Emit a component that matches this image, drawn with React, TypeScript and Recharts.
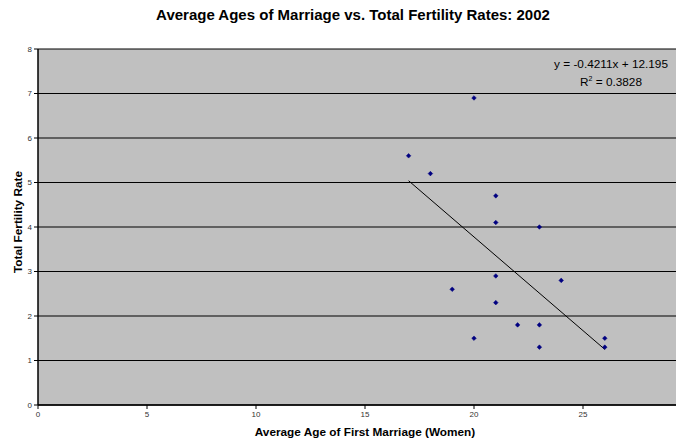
import {
  ScatterChart,
  Scatter,
  XAxis,
  YAxis,
  CartesianGrid,
} from "recharts";

// ages of first marriage (women) vs total fertility rate, 2002
const ages = [17, 18, 20, 21, 21, 23, 21, 19, 24, 21, 22, 23, 20, 23, 26, 26];
const fertility = [5.6, 5.2, 6.9, 4.7, 4.1, 4.0, 2.9, 2.6, 2.8, 2.3, 1.8, 1.8, 1.5, 1.3, 1.5, 1.3];

// linear trendline ends, as drawn
const trendX = [17, 26];
const trendY = [5.04, 1.25];

// axis runs to 30 but the picture is cropped before that tick
const xTicks = [0, 5, 10, 15, 20, 25];
const yTicks = [0, 1, 2, 3, 4, 5, 6, 7, 8];

const points = ages.map((a, i) => ({ age: a, tfr: fertility[i] }));
const trend = trendX.map((x, i) => ({ age: x, tfr: trendY[i] }));

const font = "'Liberation Sans', Arial, sans-serif";

const Diamond = (props: any) => {
  const { cx, cy } = props;
  if (cx == null || cy == null) return null;
  const r = 2.3;
  return (
    <path
      d={`M${cx},${cy - r}L${cx + r},${cy}L${cx},${cy + r}L${cx - r},${cy}Z`}
      fill="#000080"
      stroke="#000080"
      strokeWidth={0.5}
    />
  );
};

export default function App() {
  return (
    <div
      style={{
        position: "fixed",
        left: 0,
        top: 0,
        width: 676,
        height: 442,
        overflow: "hidden",
        background: "#fff",
        fontFamily: font,
      }}
    >
      <div
        style={{
          position: "absolute",
          left: 0,
          width: 706,
          top: 6,
          textAlign: "center",
          fontSize: 15,
          lineHeight: "18px",
          fontWeight: "bold",
          color: "#000",
        }}
      >
        Average Ages of Marriage vs. Total Fertility Rates: 2002
      </div>

      <div style={{ position: "absolute", left: 0, top: 0 }}>
        <ScatterChart
          width={720}
          height={442}
          margin={{ top: 49, right: 28, bottom: 7, left: 0 }}
        >
          <CartesianGrid
            horizontal
            vertical={false}
            stroke="#000"
            fill="#c0c0c0"
            fillOpacity={1}
          />
          <XAxis
            type="number"
            dataKey="age"
            domain={[0, 30]}
            ticks={xTicks}
            interval={0}
            tickSize={4}
            tickLine={{ stroke: "#000" }}
            axisLine={{ stroke: "#000", strokeWidth: 1.5 }}
            tick={{ fill: "#333", fontSize: 8, fontFamily: font }}
            height={30}
          />
          <YAxis
            type="number"
            dataKey="tfr"
            domain={[0, 8]}
            ticks={yTicks}
            interval={0}
            tickSize={4}
            tickLine={{ stroke: "#000" }}
            axisLine={{ stroke: "#000", strokeWidth: 1.5 }}
            tick={{ fill: "#333", fontSize: 8, fontFamily: font }}
            width={38}
          />
          <Scatter
            data={trend}
            line={{ stroke: "#000", strokeWidth: 1 }}
            shape={() => null}
            isAnimationActive={false}
          />
          <Scatter data={points} shape={Diamond} isAnimationActive={false} />
        </ScatterChart>
      </div>

      <div
        style={{
          position: "absolute",
          left: 38,
          width: 654,
          top: 425,
          textAlign: "center",
          fontSize: 11.8,
          lineHeight: "15px",
          fontWeight: "bold",
        }}
      >
        Average Age of First Marriage (Women)
      </div>
      <div
        style={{
          position: "absolute",
          left: 18,
          top: 222,
          transform: "translate(-50%, -50%) rotate(-90deg)",
          whiteSpace: "nowrap",
          fontSize: 11.8,
          lineHeight: "15px",
          fontWeight: "bold",
        }}
      >
        Total Fertility Rate
      </div>

      <div
        style={{
          position: "absolute",
          right: 8,
          top: 57,
          fontSize: 11.8,
          textAlign: "right",
          lineHeight: "14px",
        }}
      >
        y = -0.4211x + 12.195
      </div>
      <div
        style={{
          position: "absolute",
          right: 34,
          top: 75,
          fontSize: 11.8,
          lineHeight: "14px",
        }}
      >
        R<sup style={{ fontSize: 7, verticalAlign: "top", lineHeight: "8px" }}>2</sup> = 0.3828
      </div>
    </div>
  );
}
